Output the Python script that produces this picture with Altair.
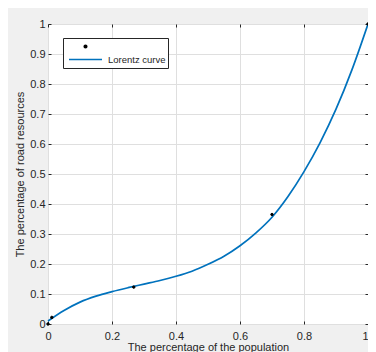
import altair as alt
import pandas as pd

# ---- data ----
curve_x = [0.00, 0.05, 0.10, 0.15, 0.20, 0.25, 0.30, 0.35, 0.40, 0.45, 0.50,
           0.55, 0.60, 0.65, 0.70, 0.75, 0.80, 0.85, 0.90, 0.95, 1.00]
curve_y = [0.010, 0.045, 0.073, 0.093, 0.108, 0.121, 0.133, 0.145, 0.159, 0.176, 0.199,
           0.226, 0.261, 0.304, 0.356, 0.425, 0.508, 0.604, 0.716, 0.848, 1.000]
pts_x = [0.0, 0.012, 0.268, 0.700, 1.0]
pts_y = [0.0, 0.022, 0.123, 0.365, 1.0]
x_ticks = [0, 0.2, 0.4, 0.6, 0.8, 1]
y_ticks = [0, 0.1, 0.2, 0.3, 0.4, 0.5, 0.6, 0.7, 0.8, 0.9, 1]
series = ["points", "Lorentz curve"]
x_title = "The percentage of the population"
y_title = "The percentage of road resources"

curve_df = pd.DataFrame({"x": curve_x, "y": curve_y})
pts_df = pd.DataFrame({"x": pts_x, "y": pts_y, "series": ["points"] * len(pts_x)})

FONT = "Liberation Sans"
TXT = "#262626"
BLUE = "#0072BD"

xs = alt.Scale(domain=[0, 1], nice=False, zero=False)
ys = alt.Scale(domain=[0, 1], nice=False, zero=False)

# main axes: labels + grid, no ticks
ax_x_main = alt.Axis(orient="bottom", values=x_ticks, format="~g", grid=True, ticks=False,
                     tickSize=0, domain=False, labelPadding=6, labelFlush=False,
                     labelOverlap=False, title=x_title, titlePadding=0,
                     labelAlign={"condition": {"test": "datum.value >= 1", "value": "right"},
                                 "value": "center"})
ax_y_main = alt.Axis(orient="left", values=y_ticks, format="~g", grid=True, ticks=False,
                     tickSize=0, domain=False, labelPadding=3, labelFlush=False,
                     labelOverlap=False, title=y_title, titlePadding=4)

def tick_axis(orient, offset, vals):
    return alt.Axis(orient=orient, offset=offset, values=vals, grid=False, ticks=True,
                    tickSize=3, labels=False, domain=False, title=None)

line = alt.Chart(curve_df).mark_line(color=BLUE, strokeWidth=1.7, interpolate="monotone").encode(
    x=alt.X("x:Q", scale=xs, axis=ax_x_main),
    y=alt.Y("y:Q", scale=ys, axis=ax_y_main),
)

leg = alt.Legend(title=None, orient="none", legendX=15, legendY=14, padding=2, rowPadding=0,
                 symbolOffset=3, labelOffset=5, clipHeight=13, labelFontSize=9.5,
                 labelFont=FONT, labelColor=TXT, strokeColor="#262626", fillColor="white",
                 symbolStrokeWidth=1.7,
                 labelExpr="datum.label == 'points' ? '' : datum.label")

points = alt.Chart(pts_df).mark_point(filled=True, strokeWidth=1, opacity=1).encode(
    x=alt.X("x:Q", scale=xs, axis=tick_axis("top", -300, x_ticks)),
    y=alt.Y("y:Q", scale=ys, axis=tick_axis("right", -320, y_ticks)),
    shape=alt.Shape("series:N", scale=alt.Scale(domain=series, range=["circle", "stroke"]), legend=leg),
    fill=alt.Fill("series:N", scale=alt.Scale(domain=series, range=["black", "transparent"]), legend=leg),
    stroke=alt.Stroke("series:N", scale=alt.Scale(domain=series, range=["black", BLUE]), legend=leg),
    size=alt.Size("series:N", scale=alt.Scale(domain=series, range=[6, 1089]), legend=leg),
)

ticks_other = alt.Chart(pts_df).mark_point(opacity=0).encode(
    x=alt.X("x:Q", scale=xs, axis=tick_axis("bottom", -300, x_ticks)),
    y=alt.Y("y:Q", scale=ys, axis=tick_axis("left", -320, y_ticks)),
)

chart = alt.layer(line, points, ticks_other).resolve_axis(
    x="independent", y="independent"
).properties(
    width=320, height=300,
    autosize=alt.AutoSizeParams(type="none"),
    padding={"left": 40, "top": 16, "right": 0, "bottom": 28},
    background="#f0f0f0",
).configure_view(
    stroke=TXT, strokeWidth=1, fill="white"
).configure_axis(
    labelFont=FONT, labelFontSize=11, labelColor=TXT,
    titleFont=FONT, titleFontSize=11, titleColor=TXT, titleFontWeight="normal",
    gridColor="#dfdfdf", gridWidth=1, tickColor=TXT, tickWidth=1,
)

chart.save("out.html", embed_options={"renderer": "svg", "actions": False})
